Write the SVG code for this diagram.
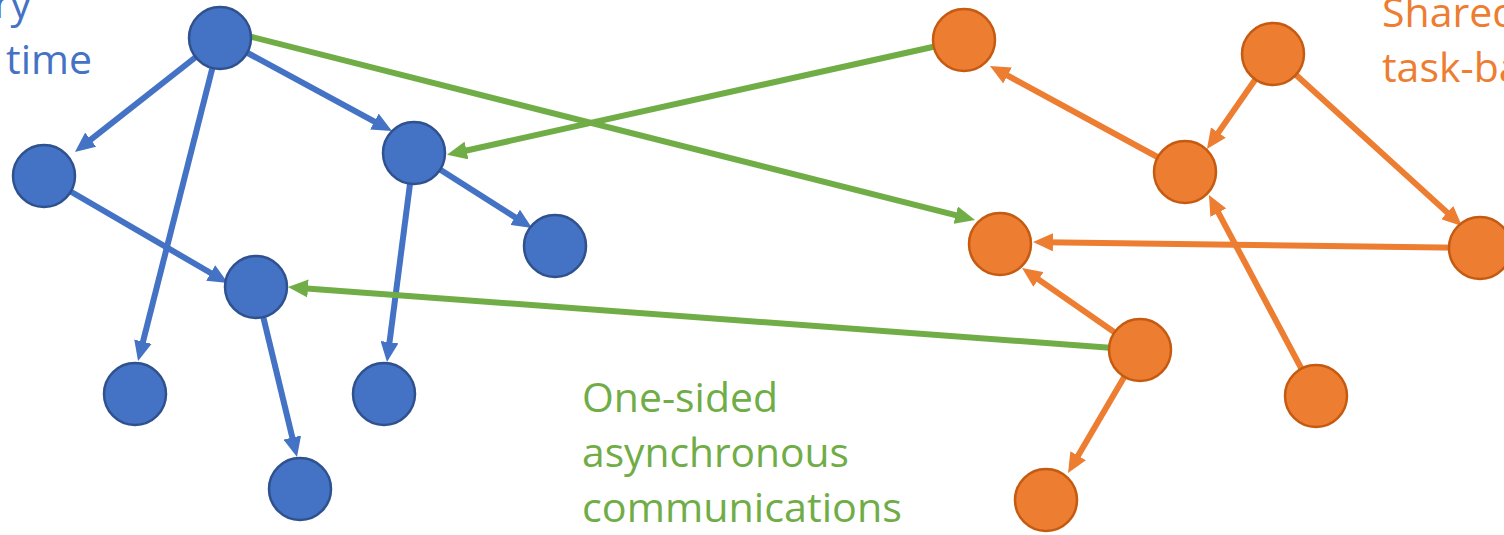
<svg xmlns="http://www.w3.org/2000/svg" width="1504" height="535" viewBox="0 0 1504 535">
  <style>
    .lbl { font-family: "Open Sans", "Liberation Sans", sans-serif; font-size: 41px; }
    .blue-t { fill: #4472C4; }
    .orange-t { fill: #ED7D31; }
    .green-t { fill: #70AD47; }
    .edge { fill: none; stroke-width: 6; }
    .e-blue { stroke: #4472C4; marker-end: url(#arrow-blue); }
    .e-orange { stroke: #ED7D31; marker-end: url(#arrow-orange); }
    .e-green { stroke: #70AD47; marker-end: url(#arrow-green); }
    .n-blue { fill: #4472C4; stroke: #2F528F; stroke-width: 2.5; }
    .n-orange { fill: #ED7D31; stroke: #C55A11; stroke-width: 2.5; }
  </style>
  <defs>
    <marker id="arrow-blue" markerUnits="userSpaceOnUse" viewBox="0 0 20 18" markerWidth="20" markerHeight="18" refX="8" refY="9" orient="auto">
      <path d="M0,0 L20,9 L0,18 z" fill="#4472C4"/>
    </marker>
    <marker id="arrow-orange" markerUnits="userSpaceOnUse" viewBox="0 0 20 18" markerWidth="20" markerHeight="18" refX="8" refY="9" orient="auto">
      <path d="M0,0 L20,9 L0,18 z" fill="#ED7D31"/>
    </marker>
    <marker id="arrow-green" markerUnits="userSpaceOnUse" viewBox="0 0 20 18" markerWidth="20" markerHeight="18" refX="8" refY="9" orient="auto">
      <path d="M0,0 L20,9 L0,18 z" fill="#70AD47"/>
    </marker>
  </defs>
  <rect width="1504" height="535" fill="#FFFFFF"/>

  <!-- labels -->
  <g id="label-runtime">
    <text class="lbl blue-t" x="31" y="18" text-anchor="end">ry</text>
    <text class="lbl blue-t" x="92" y="74" text-anchor="end">time</text>
  </g>
  <g id="label-shared">
    <text class="lbl orange-t" x="1382" y="27">Shared</text>
    <text class="lbl orange-t" x="1382" y="82">task-ba</text>
  </g>
  <g id="label-onesided">
    <text class="lbl green-t" x="582" y="412" textLength="196" lengthAdjust="spacingAndGlyphs">One-sided</text>
    <text class="lbl green-t" x="582" y="467" textLength="267" lengthAdjust="spacingAndGlyphs">asynchronous</text>
    <text class="lbl green-t" x="582" y="522" textLength="320" lengthAdjust="spacingAndGlyphs">communications</text>
  </g>

  <!-- connectors -->
  <g id="connectors">
    <line class="edge e-blue" x1="220" y1="38" x2="84.4" y2="144.6"/>
    <line class="edge e-blue" x1="220" y1="38" x2="141" y2="349.4"/>
    <line class="edge e-blue" x1="220" y1="38" x2="381.4" y2="125.3"/>
    <line class="edge e-blue" x1="44" y1="176" x2="217.6" y2="277"/>
    <line class="edge e-blue" x1="414" y1="153" x2="388.5" y2="350.1"/>
    <line class="edge e-blue" x1="414" y1="153" x2="521.9" y2="221.6"/>
    <line class="edge e-blue" x1="256" y1="287" x2="294.2" y2="445.3"/>

    <line class="edge e-green" x1="248" y1="36" x2="963.4" y2="217.1"/>
    <line class="edge e-green" x1="964" y1="40" x2="458.7" y2="152.2"/>
    <line class="edge e-green" x1="1140" y1="350" x2="300" y2="287.9"/>

    <line class="edge e-orange" x1="1185" y1="172" x2="1000.5" y2="71.7"/>
    <line class="edge e-orange" x1="1273" y1="54" x2="1213.8" y2="139.1"/>
    <line class="edge e-orange" x1="1273" y1="54" x2="1453.1" y2="217.9"/>
    <line class="edge e-orange" x1="1480" y1="248" x2="1045" y2="242.2"/>
    <line class="edge e-orange" x1="1140" y1="350" x2="1031.9" y2="274.9"/>
    <line class="edge e-orange" x1="1316" y1="396" x2="1214.6" y2="205.6"/>
    <line class="edge e-orange" x1="1140" y1="350" x2="1074.1" y2="462.6"/>
  </g>

  <!-- blue task graph -->
  <g id="b-root"><circle class="n-blue" cx="220" cy="38" r="31"/></g>
  <g id="b-left"><circle class="n-blue" cx="44" cy="176" r="31"/></g>
  <g id="b-mid"><circle class="n-blue" cx="414" cy="153" r="31"/></g>
  <g id="b-right"><circle class="n-blue" cx="555" cy="246" r="31"/></g>
  <g id="b-center"><circle class="n-blue" cx="256" cy="287" r="31"/></g>
  <g id="b-leaf1"><circle class="n-blue" cx="135" cy="394" r="31"/></g>
  <g id="b-leaf2"><circle class="n-blue" cx="384" cy="394" r="31"/></g>
  <g id="b-leaf3"><circle class="n-blue" cx="300" cy="489" r="31"/></g>

  <!-- orange task graph -->
  <g id="o-top"><circle class="n-orange" cx="964" cy="40" r="31"/></g>
  <g id="o-root"><circle class="n-orange" cx="1273" cy="54" r="31"/></g>
  <g id="o-mid"><circle class="n-orange" cx="1185" cy="172" r="31"/></g>
  <g id="o-left"><circle class="n-orange" cx="1000" cy="244" r="31"/></g>
  <g id="o-right"><circle class="n-orange" cx="1480" cy="248" r="31"/></g>
  <g id="o-low"><circle class="n-orange" cx="1140" cy="350" r="31"/></g>
  <g id="o-leaf1"><circle class="n-orange" cx="1316" cy="396" r="31"/></g>
  <g id="o-leaf2"><circle class="n-orange" cx="1046" cy="500" r="31"/></g>
</svg>
